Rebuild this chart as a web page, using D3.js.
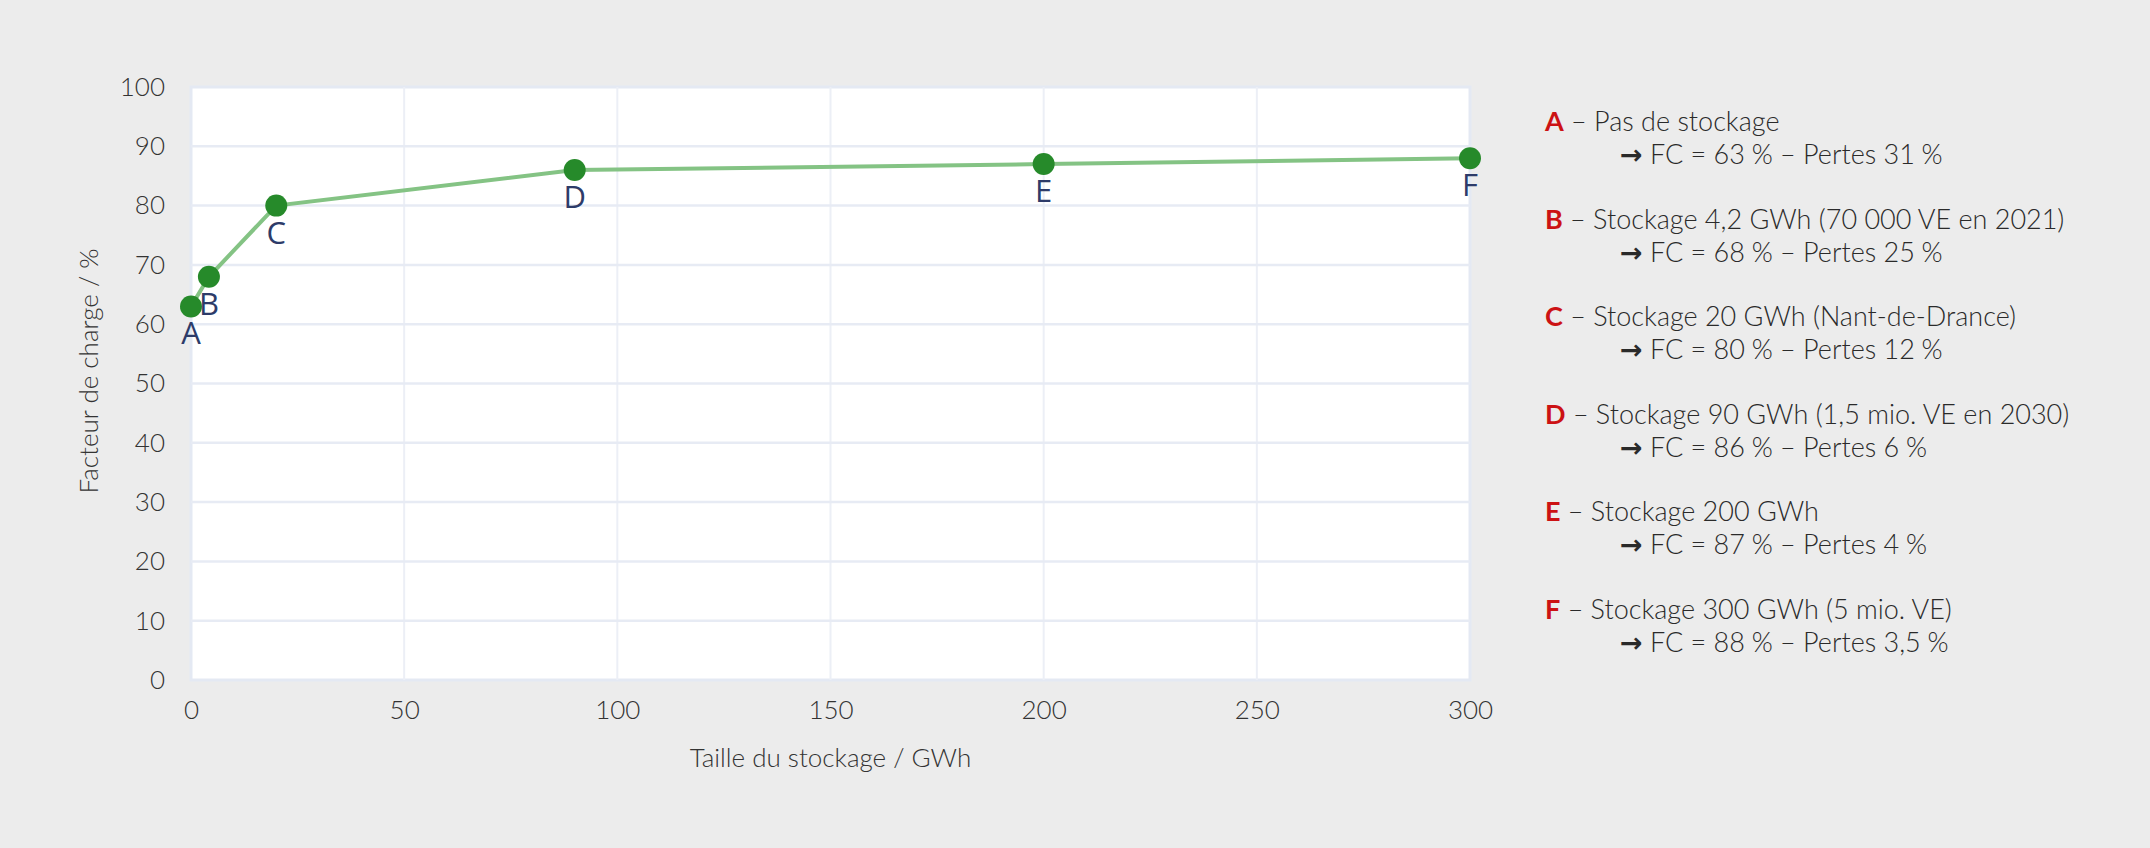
<!DOCTYPE html>
<html>
<head>
<meta charset="utf-8">
<script src="https://cdn.jsdelivr.net/npm/d3@7"></script>
<style>
  body { margin: 0; background: #ececec; }
  svg { display: block; }
  .tick text { font-family: Lato, sans-serif; font-weight: 300; font-size: 26px; fill: #333; }
</style>
</head>
<body>
<div id="chart"></div>
<script>
var width = 2150, height = 848;

// data
var pointLabels = ["A", "B", "C", "D", "E", "F"];
var storageGWh = [0, 4.2, 20, 90, 200, 300];
var loadFactor = [63, 68, 80, 86, 87, 88];

var legendTitles = [
  "Pas de stockage",
  "Stockage 4,2 GWh (70 000 VE en 2021)",
  "Stockage 20 GWh (Nant-de-Drance)",
  "Stockage 90 GWh (1,5 mio. VE en 2030)",
  "Stockage 200 GWh",
  "Stockage 300 GWh (5 mio. VE)"
];
var legendFC = ["63", "68", "80", "86", "87", "88"];
var legendLosses = ["31", "25", "12", "6", "4", "3,5"];

var xTicks = [0, 50, 100, 150, 200, 250, 300];
var yTicks = [0, 10, 20, 30, 40, 50, 60, 70, 80, 90, 100];

var plot = { left: 191, right: 1470, top: 87, bottom: 680 };

var svg = d3.select('#chart').append('svg')
    .attr('width', width)
    .attr('height', height);

svg.append('rect')
    .attr('width', width).attr('height', height)
    .attr('fill', '#ececec');

var x = d3.scaleLinear().domain([0, 300]).range([plot.left, plot.right]);
var y = d3.scaleLinear().domain([0, 100]).range([plot.bottom, plot.top]);

// plot area
svg.append('rect')
    .attr('x', plot.left).attr('y', plot.top)
    .attr('width', plot.right - plot.left)
    .attr('height', plot.bottom - plot.top)
    .attr('fill', '#fff')
    .attr('stroke', '#e4e9f3')
    .attr('stroke-width', 3);

// grid
svg.append('g').selectAll('line')
    .data(xTicks.slice(1, -1))
    .join('line')
    .attr('x1', function(d){ return x(d) }).attr('x2', function(d){ return x(d) })
    .attr('y1', plot.top).attr('y2', plot.bottom)
    .attr('stroke', '#eceff6').attr('stroke-width', 2);

svg.append('g').selectAll('line')
    .data(yTicks.slice(1, -1))
    .join('line')
    .attr('x1', plot.left).attr('x2', plot.right)
    .attr('y1', function(d){ return y(d) }).attr('y2', function(d){ return y(d) })
    .attr('stroke', '#e7ebf4').attr('stroke-width', 2.5);

// axes
var xAxis = svg.append('g')
    .attr('transform', 'translate(0,' + plot.bottom + ')')
    .call(d3.axisBottom(x).tickValues(xTicks).tickSize(0).tickPadding(21));
xAxis.select('.domain').remove();

var yAxis = svg.append('g')
    .attr('transform', 'translate(' + plot.left + ',0)')
    .call(d3.axisLeft(y).tickValues(yTicks).tickSize(0).tickPadding(26));
yAxis.select('.domain').remove();

svg.append('text')
    .attr('x', (plot.left + plot.right) / 2)
    .attr('y', 767)
    .attr('text-anchor', 'middle')
    .attr('font-family', 'Lato, sans-serif')
    .attr('font-weight', 300)
    .attr('font-size', 26)
    .attr('fill', '#333')
    .text('Taille du stockage / GWh');

svg.append('text')
    .attr('transform', 'translate(98,371) rotate(-90)')
    .attr('text-anchor', 'middle')
    .attr('font-family', 'Lato, sans-serif')
    .attr('font-weight', 300)
    .attr('font-size', 26)
    .attr('fill', '#333')
    .text('Facteur de charge / %');

// line + points
var points = storageGWh.map(function(s, i){
    return { label: pointLabels[i], x: s, y: loadFactor[i] };
});

var lineFunc = d3.line()
    .x(function(d){ return x(d.x) })
    .y(function(d){ return y(d.y) });

svg.append('path')
    .attr('d', lineFunc(points))
    .attr('fill', 'none')
    .attr('stroke', '#84c384')
    .attr('stroke-width', 4);

svg.append('g').selectAll('circle')
    .data(points)
    .join('circle')
    .attr('cx', function(d){ return x(d.x) })
    .attr('cy', function(d){ return y(d.y) })
    .attr('r', 11)
    .attr('fill', '#268a2a');

svg.append('g').selectAll('text')
    .data(points)
    .join('text')
    .attr('x', function(d){ return x(d.x) })
    .attr('y', function(d){ return y(d.y) + 38 })
    .attr('text-anchor', 'middle')
    .attr('font-family', '"Open Sans", sans-serif')
    .attr('font-size', 31)
    .attr('fill', '#2d3b69')
    .text(function(d){ return d.label });

// legend on the right
var legend = svg.append('g')
    .attr('font-family', 'Lato, sans-serif')
    .attr('font-size', 27)
    .attr('fill', '#2a2a2a');

var nb = '\u202f';
legendTitles.forEach(function(t, i){
    var top = 131 + i * 97.5;
    var line1 = legend.append('text').attr('x', 1545).attr('y', top);
    line1.append('tspan')
        .attr('font-weight', 700)
        .attr('fill', '#cc1214')
        .text(pointLabels[i]);
    line1.append('tspan')
        .attr('font-weight', 300)
        .text(' \u2013 ' + t);

    var line2 = legend.append('text')
        .attr('x', 1620).attr('y', top + 33);
    line2.append('tspan')
        .attr('font-family', '"DejaVu Sans", sans-serif')
        .attr('font-weight', 700)
        .text('\u2192');
    line2.append('tspan')
        .attr('font-weight', 300)
        .text(' FC = ' + legendFC[i] + nb + '% \u2013 Pertes ' + legendLosses[i] + nb + '%');
});
</script>
</body>
</html>
